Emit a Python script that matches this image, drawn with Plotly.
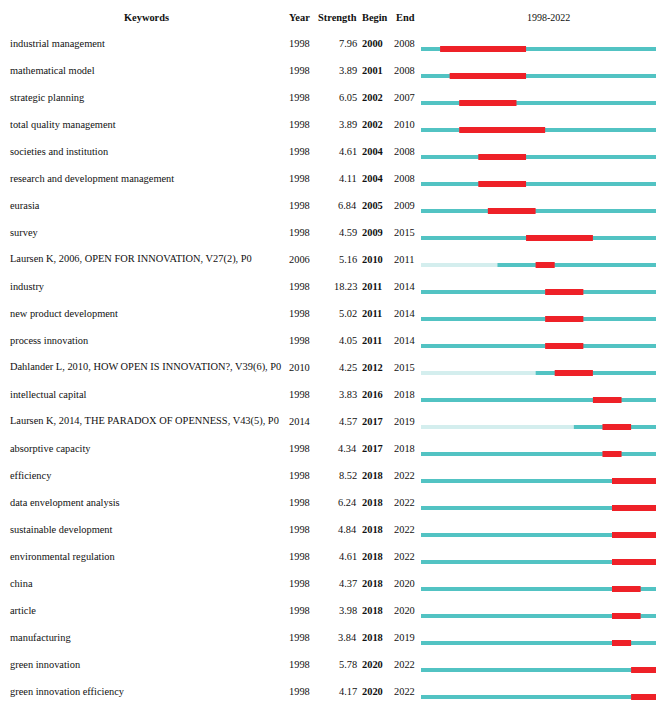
import plotly.graph_objects as go

# Burst keywords / references, 1998-2022
keywords = [
    "industrial management", "mathematical model", "strategic planning",
    "total quality management", "societies and institution",
    "research and development management", "eurasia", "survey",
    "Laursen K, 2006, OPEN FOR INNOVATION, V27(2), P0", "industry",
    "new product development", "process innovation",
    "Dahlander L, 2010, HOW OPEN IS INNOVATION?, V39(6), P0",
    "intellectual capital",
    "Laursen K, 2014, THE PARADOX OF OPENNESS, V43(5), P0",
    "absorptive capacity", "efficiency", "data envelopment analysis",
    "sustainable development", "environmental regulation", "china",
    "article", "manufacturing", "green innovation",
    "green innovation efficiency",
]
first_year = [1998, 1998, 1998, 1998, 1998, 1998, 1998, 1998, 2006, 1998,
              1998, 1998, 2010, 1998, 2014, 1998, 1998, 1998, 1998, 1998,
              1998, 1998, 1998, 1998, 1998]
strength = [7.96, 3.89, 6.05, 3.89, 4.61, 4.11, 6.84, 4.59, 5.16, 18.23,
            5.02, 4.05, 4.25, 3.83, 4.57, 4.34, 8.52, 6.24, 4.84, 4.61,
            4.37, 3.98, 3.84, 5.78, 4.17]
begin = [2000, 2001, 2002, 2002, 2004, 2004, 2005, 2009, 2010, 2011,
         2011, 2011, 2012, 2016, 2017, 2017, 2018, 2018, 2018, 2018,
         2018, 2018, 2018, 2020, 2020]
end = [2008, 2008, 2007, 2010, 2008, 2008, 2009, 2015, 2011, 2014,
       2014, 2014, 2015, 2018, 2019, 2018, 2022, 2022, 2022, 2022,
       2020, 2020, 2019, 2022, 2022]
span_start, span_end = 1998, 2022

W, H = 656, 701
CYAN = "#52C3C3"
LIGHT = "#D4EEEE"
RED = "#EE2128"
FONT = "Liberation Serif, Times New Roman, serif"
FS = 10.4
PAD = 2  # annotation inner padding in px


def px(x):
    return x / W


def py(y):
    return 1 - y / H


fig = go.Figure()


def add_segments(starts, stops, color, width):
    xs, ys = [], []
    for i, (a, b) in enumerate(zip(starts, stops)):
        if b <= a:
            continue
        xs += [a, b, None]
        ys += [i, i, None]
    fig.add_trace(go.Scatter(x=xs, y=ys, mode="lines",
                             line=dict(color=color, width=width),
                             hoverinfo="skip", showlegend=False))


n = len(keywords)
# years before the item existed
add_segments([span_start] * n, first_year, LIGHT, 4)
# active period
add_segments(first_year, [span_end + 1] * n, CYAN, 4)
# burst period
add_segments(begin, [e + 1 for e in end], RED, 6)

ann = []


def text(x, y, s, anchor="left", bold=False, yref="y", yshift=6, size=FS):
    if anchor == "left":
        x -= PAD
    elif anchor == "right":
        x += PAD
    ann.append(dict(x=px(x), y=y, xref="paper", yref=yref,
                    text=f"<b>{s}</b>" if bold else s,
                    showarrow=False, xanchor=anchor, yanchor="middle",
                    yshift=yshift, font=dict(family=FONT, size=size, color="#111")))


for i in range(n):
    text(10, i, keywords[i])
    text(289, i, str(first_year[i]))
    text(357, i, f"{strength[i]:.2f}", anchor="right")
    text(362, i, str(begin[i]), bold=True)
    text(394, i, str(end[i]))

hy = py(17)
text(146, hy, "Keywords", anchor="center", bold=True, yref="paper", yshift=0)
text(289, hy, "Year", bold=True, yref="paper", yshift=0)
text(357, hy, "Strength", anchor="right", bold=True, yref="paper", yshift=0)
text(362, hy, "Begin", bold=True, yref="paper", yshift=0)
text(396, hy, "End", bold=True, yref="paper", yshift=0)
text(548, hy, f"{span_start}-{span_end}", anchor="center", yref="paper",
     yshift=0, size=10)

row_h = 27.0
first_row_px = 49.0
year_px = 9.55
x0_px = 421.0

fig.update_layout(
    width=W, height=H, margin=dict(l=0, r=0, t=0, b=0),
    paper_bgcolor="white", plot_bgcolor="white",
    annotations=ann,
    xaxis=dict(domain=[px(x0_px), 1],
               range=[span_start, span_start + (W - x0_px) / year_px],
               visible=False, fixedrange=True),
    yaxis=dict(range=[(H - first_row_px) / row_h, -first_row_px / row_h],
               visible=False, fixedrange=True),
)

fig.write_html("out.html")
